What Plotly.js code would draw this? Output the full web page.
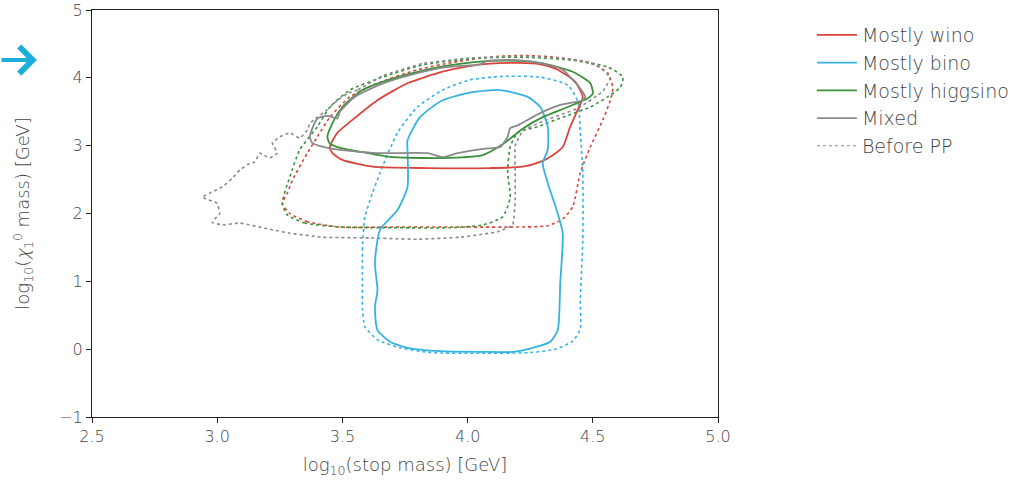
<!DOCTYPE html>
<html>
<head>
<meta charset="utf-8">
<script src="https://cdn.plot.ly/plotly-3.0.1.min.js"></script>
<style>html,body{margin:0;padding:0;background:#fff;}#chart{width:1032px;height:485px;}</style>
</head>
<body>
<div id="chart"></div>
<script>
// ---- Data (log10 stop mass, log10 neutralino mass) ----
var seriesNames = ["Mostly wino", "Mostly bino", "Mostly higgsino", "Mixed"];
var beforeLabel = "Before PP";

// After post-processing (solid)
var winoX = [3.45,3.48,3.54,3.64,3.76,3.90,4.00,4.09,4.20,4.29,4.36,4.43,4.46,4.44,4.41,4.38,4.34,4.29,4.22,4.09,3.84,3.62,3.50,3.46,3.45];
var winoY = [2.98,3.19,3.38,3.67,3.92,4.09,4.17,4.21,4.22,4.20,4.12,3.94,3.72,3.53,3.28,2.98,2.86,2.76,2.69,2.67,2.67,2.69,2.79,2.89,2.98];

var binoX = [4.13,4.02,3.90,3.81,3.76,3.76,3.76,3.72,3.65,3.63,3.64,3.63,3.64,3.69,3.76,3.89,4.05,4.18,4.26,4.33,4.36,4.37,4.38,4.36,4.32,4.30,4.32,4.32,4.29,4.24,4.13];
var binoY = [3.82,3.79,3.67,3.42,3.08,2.94,2.39,2.05,1.76,1.27,0.87,0.62,0.28,0.11,0.02,-0.03,-0.04,-0.04,0.02,0.11,0.28,0.98,1.71,2.00,2.45,2.74,2.94,3.28,3.57,3.72,3.82];

var higgsX = [3.44,3.46,3.50,3.58,3.72,3.89,4.00,4.09,4.20,4.29,4.42,4.49,4.50,4.48,4.40,4.30,4.22,4.14,4.06,3.93,3.70,3.57,3.48,3.45,3.44];
var higgsY = [3.13,3.33,3.57,3.82,4.01,4.16,4.22,4.25,4.25,4.22,4.09,3.92,3.77,3.70,3.57,3.42,3.25,3.02,2.86,2.82,2.83,2.91,2.98,3.03,3.13];

var mixedX = [3.37,3.40,3.44,3.48,3.49,3.55,3.65,3.78,3.92,4.05,4.08,4.20,4.30,4.38,4.41,4.44,4.47,4.46,4.37,4.29,4.20,4.17,4.16,4.13,4.08,3.96,3.90,3.84,3.64,3.45,3.38,3.37];
var mixedY = [3.13,3.40,3.44,3.40,3.50,3.72,3.90,4.05,4.16,4.20,4.25,4.26,4.21,4.12,4.01,3.89,3.72,3.67,3.60,3.48,3.30,3.26,3.13,2.98,2.96,2.89,2.83,2.89,2.89,2.96,3.04,3.13];

// Before post-processing (dotted)
var winoPreX = [3.49,3.36,3.29,3.26,3.28,3.30,3.36,3.40,3.45,3.53,3.64,3.80,3.96,4.10,4.22,4.36,4.49,4.56,4.58,4.57,4.54,4.49,4.45,4.42,4.38,4.32,4.20,4.00,3.70,3.49];
var winoPreY = [1.80,1.88,2.00,2.15,2.30,2.49,2.89,3.13,3.42,3.72,3.92,4.12,4.24,4.31,4.33,4.30,4.22,4.07,3.85,3.67,3.38,2.98,2.60,2.10,1.92,1.82,1.80,1.80,1.80,1.80];

var binoPreX = [3.58,3.58,3.59,3.62,3.65,3.72,3.80,3.90,4.01,4.13,4.29,4.40,4.44,4.45,4.46,4.46,4.45,4.45,4.42,4.35,4.25,4.05,3.85,3.73,3.64,3.59,3.58,3.58];
var binoPreY = [1.00,1.46,1.95,2.30,2.60,3.19,3.57,3.82,3.97,4.02,4.01,3.89,3.65,3.20,2.60,1.60,0.72,0.30,0.12,0.00,-0.05,-0.06,-0.05,0.02,0.14,0.33,0.60,1.00];

var higgsPreX = [3.50,3.35,3.28,3.26,3.29,3.33,3.40,3.45,3.53,3.66,3.82,3.98,4.10,4.25,4.42,4.56,4.62,4.61,4.56,4.49,4.38,4.28,4.20,4.17,4.16,4.17,4.14,4.06,3.93,3.70,3.50];
var higgsPreY = [1.80,1.86,1.98,2.15,2.54,2.94,3.28,3.57,3.82,4.01,4.19,4.27,4.30,4.30,4.26,4.16,4.01,3.86,3.72,3.57,3.42,3.28,3.19,2.98,2.60,2.24,1.95,1.83,1.79,1.79,1.80];

var mixedPreX = [3.58,3.56,3.52,3.48,3.44,3.40,3.37,3.36,3.33,3.29,3.25,3.22,3.24,3.21,3.17,3.15,3.12,3.09,3.06,3.02,2.97,2.94,3.00,3.01,2.98,3.02,3.09,3.22,3.29,3.42,3.61,3.80,3.97,4.12,4.18,4.19,4.19,4.19,4.22,4.30,4.44,4.54,4.57,4.52,4.40,4.20,4.00,3.82,3.66,3.58];
var mixedPreY = [3.86,3.82,3.77,3.67,3.53,3.42,3.33,3.23,3.11,3.19,3.13,3.04,2.89,2.82,2.89,2.76,2.72,2.64,2.52,2.39,2.30,2.24,2.15,2.00,1.87,1.83,1.86,1.76,1.71,1.65,1.64,1.62,1.65,1.73,1.83,2.20,2.60,3.00,3.22,3.36,3.55,3.80,4.00,4.18,4.28,4.32,4.29,4.21,4.03,3.86];

var xTicks = [2.5, 3.0, 3.5, 4.0, 4.5, 5.0];
var yTicks = [-1, 0, 1, 2, 3, 4, 5];

var colors = ["#d9453d", "#35b3e3", "#3a913a", "#8a8a8a"];

var solids = [[winoX, winoY], [binoX, binoY], [higgsX, higgsY], [mixedX, mixedY]];
var dotted = [[winoPreX, winoPreY], [binoPreX, binoPreY], [higgsPreX, higgsPreY], [mixedPreX, mixedPreY]];
var dotSmooth = [0.6, 0.6, 0.6, 0.3];

var traces = [];
dotted.forEach(function (d, i) {
  traces.push({
    x: d[0], y: d[1], type: "scatter", mode: "lines",
    line: {color: colors[i], width: 1.6, dash: "dot", shape: "spline", smoothing: dotSmooth[i]},
    showlegend: false, hoverinfo: "skip"
  });
});
solids.forEach(function (d, i) {
  traces.push({
    x: d[0], y: d[1], type: "scatter", mode: "lines", name: seriesNames[i],
    line: {color: colors[i], width: 1.8, shape: "spline", smoothing: 0.6},
    legendrank: i + 1
  });
});
traces.push({
  x: [null], y: [null], type: "scatter", mode: "lines", name: beforeLabel,
  line: {color: "#8a8a8a", width: 1.2, dash: "dot"}, legendrank: 5
});

var fontFam = "DejaVu Sans ExtraLight, DejaVu Sans Light, DejaVu Sans, sans-serif";
var layout = {
  width: 1032, height: 485,
  margin: {l: 92, r: 314, t: 10, b: 68},
  paper_bgcolor: "#fff", plot_bgcolor: "#fff",
  font: {family: fontFam, size: 16, color: "#444"},
  showlegend: true,
  legend: {
    x: 1.15, y: 0.985, xanchor: "left", yanchor: "top",
    font: {family: fontFam, size: 19, color: "#444"},
    bgcolor: "rgba(0,0,0,0)", tracegroupgap: 0, itemwidth: 40
  },
  xaxis: {
    range: [2.5, 5.0], tickvals: xTicks, ticktext: xTicks.map(function (v) { return v.toFixed(1); }),
    tickfont: {size: 16},
    showgrid: false, zeroline: false, showline: true, mirror: true,
    linecolor: "#222", linewidth: 1, ticks: "outside", ticklen: 5, tickcolor: "#222",
    title: {text: "log<sub>10</sub>(stop mass) [GeV]", font: {size: 18, color: "#444"}, standoff: 13}
  },
  yaxis: {
    range: [-1, 5], tickvals: yTicks, tickfont: {size: 16},
    showgrid: false, zeroline: false, showline: true, mirror: true,
    linecolor: "#222", linewidth: 1, ticks: "outside", ticklen: 5, tickcolor: "#222",
    title: {text: "log<sub>10</sub>(<i>χ</i><sub>1</sub><sup>0</sup> mass) [GeV]", font: {size: 18, color: "#444"}, standoff: 24}
  },
  annotations: [{
    xref: "paper", yref: "paper", x: -0.088, y: 0.877, ax: -40, ay: 0,
    text: "", showarrow: true, arrowhead: 4, arrowsize: 1.3, arrowwidth: 4, arrowcolor: "#1aaed8"
  }]
};

Plotly.newPlot("chart", traces, layout, {displayModeBar: false, staticPlot: true});
</script>
</body>
</html>
